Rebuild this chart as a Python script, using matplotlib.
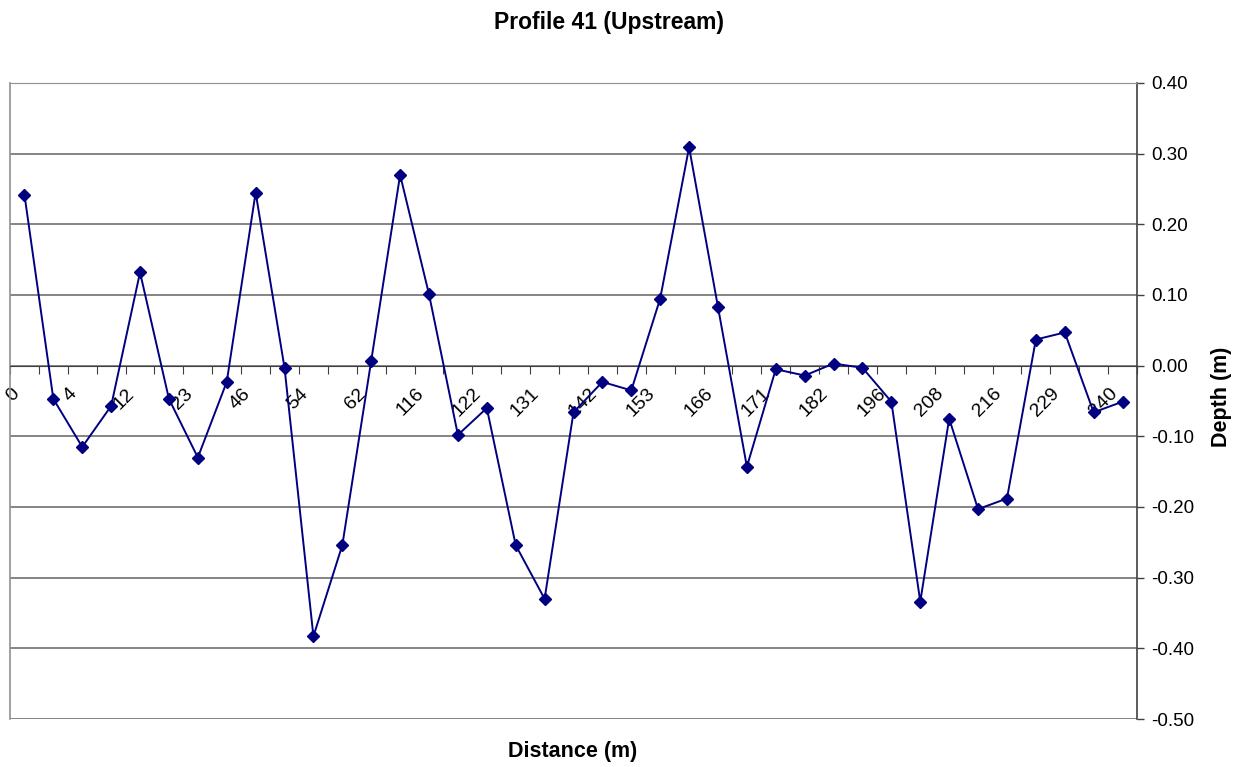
import matplotlib
matplotlib.use("Agg")
import matplotlib.pyplot as plt
import matplotlib.transforms as mtransforms
import numpy as np

# Data (categorical x axis; only every other distance label is shown in the reference)
shown_labels = ["0", "4", "12", "23", "46", "54", "62", "116", "122", "131",
                "142", "153", "166", "171", "182", "196", "208", "216", "229", "240"]
depth = [0.242, -0.047, -0.115, -0.057, 0.132, -0.047, -0.130, -0.023, 0.245, -0.003,
         -0.383, -0.254, 0.007, 0.270, 0.101, -0.098, -0.060, -0.254, -0.330, -0.066,
         -0.023, -0.035, 0.095, 0.309, 0.083, -0.143, -0.005, -0.014, 0.003, -0.003,
         -0.051, -0.334, -0.075, -0.203, -0.188, 0.037, 0.047, -0.066, -0.051]
yticks = [-0.5, -0.4, -0.3, -0.2, -0.1, 0.0, 0.1, 0.2, 0.3, 0.4]

title = "Profile 41 (Upstream)"
xlabel = "Distance (m)"
ylabel = "Depth (m)"

plt.rcParams['font.family'] = ['Liberation Sans', 'DejaVu Sans']

W, H = 1241, 767
fig = plt.figure(figsize=(W / 100, H / 100), dpi=100)
L, R, T, B = 10, 1137, 83, 719
ax = fig.add_axes([L / W, 1 - B / H, (R - L) / W, (B - T) / H])

n = len(depth)
x = np.arange(n)
ax.plot(x, depth, color="#000080", lw=1.4, marker="D", markersize=6,
        markerfacecolor="#000080", markeredgecolor="#000080", zorder=3)

ax.set_xlim(-0.5, n - 0.5)
ax.set_ylim(-0.5, 0.4)

# y axis on the right
ax.yaxis.tick_right()
ax.set_yticks(yticks)
ax.set_yticklabels([f"{v:.2f}" for v in yticks], fontsize=13.5)
ax.tick_params(axis='y', direction='out', length=5, width=1, color="#404040", pad=5)
ax.yaxis.grid(True, color="#707070", lw=1.2)
ax.set_axisbelow(True)

# x axis at y = 0
ax.spines['bottom'].set_position(('data', 0))
ax.spines['bottom'].set_color("#404040")
ax.spines['top'].set_color("#909090")
ax.spines['left'].set_color("#909090")
ax.spines['right'].set_color("#404040")
ax.spines['right'].set_linewidth(1.2)
ax.spines['left'].set_linewidth(1.2)

ax.set_xticks(np.arange(-0.5, n, 1.0))
ax.set_xticklabels([])
ax.tick_params(axis='x', which='major', direction='out', length=6, color="#404040")
label_pos = np.arange(0, n, 2)
ax.set_xticks(label_pos, minor=True)
ax.set_xticklabels(shown_labels, minor=True, fontsize=14)
ax.tick_params(axis='x', which='minor', length=0, pad=14)
offset = mtransforms.ScaledTranslation(-14 / 100, 0, fig.dpi_scale_trans)
for lab in ax.get_xticklabels(minor=True):
    lab.set_rotation(45)
    lab.set_ha('right')
    lab.set_va('top')
    lab.set_rotation_mode('anchor')
    lab.set_transform(lab.get_transform() + offset)

fig.text(609 / W, 1 - 22 / H, title, ha='center', va='center', fontsize=16.5, fontweight='bold')
fig.text(573 / W, 1 - 752 / H, xlabel, ha='center', va='center', fontsize=15.5, fontweight='bold')
fig.text(1221 / W, 1 - 397 / H, ylabel, ha='center', va='center', fontsize=15.5,
         fontweight='bold', rotation=90)

fig.savefig("out.png", dpi=100)
